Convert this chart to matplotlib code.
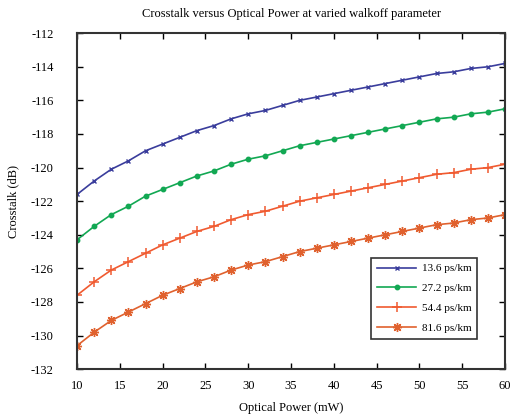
import numpy as np
import matplotlib
matplotlib.use('Agg')
import matplotlib.pyplot as plt

plt.rcParams['font.family'] = ['Liberation Serif', 'DejaVu Serif']
plt.rcParams['axes.unicode_minus'] = False

power = [10, 12, 14, 16, 18, 20, 22, 24, 26, 28, 30, 32, 34, 36, 38, 40,
         42, 44, 46, 48, 50, 52, 54, 56, 58, 60]

xt_136 = [-121.6, -120.8, -120.1, -119.6, -119.0, -118.6, -118.2, -117.8, -117.5,
          -117.1, -116.8, -116.6, -116.3, -116.0, -115.8, -115.6, -115.4, -115.2,
          -115.0, -114.8, -114.6, -114.4, -114.3, -114.1, -114.0, -113.8]
xt_272 = [-124.3, -123.5, -122.8, -122.3, -121.7, -121.3, -120.9, -120.5, -120.2,
          -119.8, -119.5, -119.3, -119.0, -118.7, -118.5, -118.3, -118.1, -117.9,
          -117.7, -117.5, -117.3, -117.1, -117.0, -116.8, -116.7, -116.5]
xt_544 = [-127.6, -126.8, -126.1, -125.6, -125.1, -124.6, -124.2, -123.8, -123.5,
          -123.1, -122.8, -122.6, -122.3, -122.0, -121.8, -121.6, -121.4, -121.2,
          -121.0, -120.8, -120.6, -120.4, -120.3, -120.1, -120.0, -119.8]
xt_816 = [-130.6, -129.8, -129.1, -128.6, -128.1, -127.6, -127.2, -126.8, -126.5,
          -126.1, -125.8, -125.6, -125.3, -125.0, -124.8, -124.6, -124.4, -124.2,
          -124.0, -123.8, -123.6, -123.4, -123.3, -123.1, -123.0, -122.8]

labels = ['13.6 ps/km', '27.2 ps/km', '54.4 ps/km', '81.6 ps/km']

fig = plt.figure(figsize=(5.17, 4.2), dpi=100)
ax = fig.add_axes([0.149, 0.121, 0.828, 0.8])

ax.plot(power, xt_136, color='#3a3d9c', lw=1.2, marker='x', ms=3.5, mew=1.0, label=labels[0])
ax.plot(power, xt_272, color='#12a853', lw=1.2, marker='o', ms=3.2, label=labels[1])
ax.plot(power, xt_544, color='#f05a30', lw=1.2, marker='+', ms=6.5, mew=1.1, label=labels[2])
ax.plot(power, xt_816, color='#e0612e', lw=1.2, marker=(8, 2, 0), ms=6.5, mew=1.0, label=labels[3])

ax.set_xlim(10, 60)
ax.set_ylim(-132, -112)
ax.set_xticks(np.arange(10, 61, 5))
ax.set_yticks(np.arange(-132, -111, 2))
ax.tick_params(direction='in', top=True, right=True, labelsize=9, length=4, width=1)
ax.tick_params(axis='y', pad=17)
ax.tick_params(axis='x', pad=8)
for s in ax.spines.values():
    s.set_linewidth(1.5)
    s.set_color('#333333')

ax.set_title('Crosstalk versus Optical Power at varied walkoff parameter', fontsize=9, pad=12)
ax.set_xlabel('Optical Power (mW)', fontsize=9, labelpad=7)
ax.set_ylabel('Crosstalk (dB)', fontsize=9, labelpad=8)

leg = ax.legend(loc='lower right', bbox_to_anchor=(0.935, 0.09), fontsize=8,
                fancybox=False, edgecolor='#333333', framealpha=1,
                handlelength=3.5, handletextpad=0.5, labelspacing=0.9,
                borderpad=0.55, borderaxespad=0)
leg.get_frame().set_linewidth(1.2)

fig.savefig('out.png', dpi=100)
